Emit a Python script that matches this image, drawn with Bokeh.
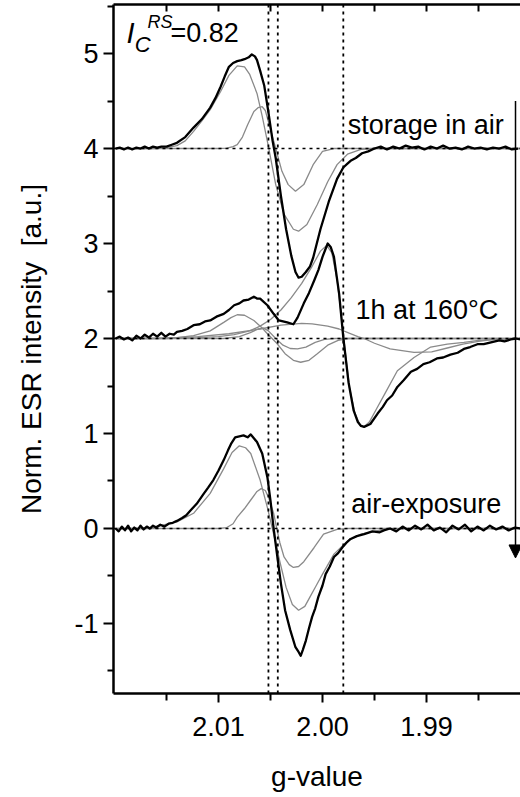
from bokeh.plotting import figure
from bokeh.models import Range1d, FixedTicker, LinearAxis, Span, Label, Arrow, NormalHead
from bokeh.embed import file_html
from bokeh.resources import INLINE

# ---------------- data (g-value, normalized ESR intensity) ----------------
# top spectrum: storage in air (offset 4)
g_top_exp = [2.0199, 2.0195, 2.0191, 2.0187, 2.0183, 2.0179, 2.0175, 2.0171, 2.0167, 2.0163, 2.0159, 2.0155,
             2.0150, 2.0145, 2.0140, 2.0132, 2.0124, 2.0116, 2.0108, 2.0103, 2.0098, 2.0094, 2.0090, 2.0086,
             2.0082, 2.0078, 2.0075, 2.0071, 2.0068, 2.0065, 2.0063, 2.0060, 2.0056, 2.0052, 2.0048, 2.0045,
             2.0040, 2.0035, 2.0030, 2.0026, 2.0023, 2.0020, 2.0016, 2.0012, 2.0009, 2.0002, 1.9994, 1.9986,
             1.9980, 1.9976, 1.9973, 1.9968, 1.9962, 1.9956, 1.9950, 1.9944, 1.9938, 1.9932, 1.9926, 1.9920,
             1.9914, 1.9908, 1.9902, 1.9896, 1.9890, 1.9884, 1.9878, 1.9872, 1.9866, 1.9860, 1.9854, 1.9848,
             1.9842, 1.9836, 1.9830, 1.9824, 1.9818, 1.9812]
v_top_exp = [4.00, 4.01, 3.99, 4.01, 3.99, 4.01, 4.00, 4.02, 4.00, 4.02, 4.01, 4.02,
             4.02, 4.04, 4.06, 4.12, 4.22, 4.31, 4.43, 4.53, 4.65, 4.76, 4.86, 4.90,
             4.92, 4.93, 4.94, 4.96, 4.99, 4.97, 4.93, 4.82, 4.66, 4.38, 4.08, 3.90,
             3.50, 3.15, 2.87, 2.70, 2.64, 2.65, 2.70, 2.76, 2.85, 3.15, 3.44, 3.68,
             3.80, 3.84, 3.87, 3.90, 3.95, 3.97, 4.00, 4.02, 3.99, 4.02, 4.00, 4.03,
             4.01, 4.02, 3.99, 4.02, 4.00, 4.03, 4.00, 4.01, 3.99, 4.02, 4.00, 4.01,
             3.99, 4.01, 4.00, 4.02, 3.99, 4.00]
g_top_fit1 = [2.0199, 2.0160, 2.0150, 2.0140, 2.0132, 2.0124, 2.0116, 2.0108, 2.0098, 2.0090, 2.0082, 2.0075,
              2.0070, 2.0063, 2.0058, 2.0052, 2.0045, 2.0037, 2.0028, 2.0023, 2.0015, 2.0005, 1.9995, 1.9986,
              1.9976, 1.9963, 1.9950, 1.9810]
v_top_fit1 = [4.00, 4.00, 4.01, 4.03, 4.08, 4.18, 4.29, 4.41, 4.60, 4.77, 4.87, 4.86,
              4.78, 4.58, 4.34, 4.02, 3.62, 3.31, 3.15, 3.13, 3.20, 3.41, 3.65, 3.83,
              3.94, 3.99, 4.00, 4.00]
g_top_fit2 = [2.0199, 2.0100, 2.0092, 2.0086, 2.0082, 2.0077, 2.0072, 2.0066, 2.0062, 2.0058, 2.0055, 2.0052,
              2.0045, 2.0039, 2.0033, 2.0026, 2.0018, 2.0009, 2.0000, 1.9989, 1.9810]
v_top_fit2 = [4.00, 4.00, 4.005, 4.02, 4.04, 4.12, 4.25, 4.39, 4.43, 4.44, 4.40, 4.28,
              4.00, 3.76, 3.62, 3.55, 3.62, 3.83, 3.97, 4.00, 4.00]

# middle spectrum: 1h at 160 C (offset 2)
g_mid_exp = [2.0199, 2.0195, 2.0191, 2.0187, 2.0183, 2.0179, 2.0175, 2.0171, 2.0167, 2.0163, 2.0159, 2.0155,
             2.0151, 2.0147, 2.0143, 2.0140, 2.0135, 2.0130, 2.0124, 2.0118, 2.0113, 2.0108, 2.0102, 2.0095,
             2.0090, 2.0085, 2.0080, 2.0076, 2.0071, 2.0066, 2.0063, 2.0060, 2.0053, 2.0047, 2.0042, 2.0038,
             2.0034, 2.0028, 2.0024, 2.0018, 2.0013, 2.0008, 2.0004, 2.0000, 1.9995, 1.9992, 1.9989, 1.9984,
             1.9980, 1.9975, 1.9970, 1.9966, 1.9963, 1.9960, 1.9954, 1.9947, 1.9942, 1.9938, 1.9933, 1.9928,
             1.9922, 1.9915, 1.9909, 1.9903, 1.9897, 1.9890, 1.9884, 1.9877, 1.9870, 1.9864, 1.9858, 1.9851,
             1.9845, 1.9838, 1.9830, 1.9825, 1.9819, 1.9814, 1.9810]
v_mid_exp = [2.00, 2.02, 1.99, 2.01, 1.98, 2.03, 2.00, 2.04, 2.01, 2.05, 2.02, 2.06,
             2.02, 2.05, 2.04, 2.07, 2.08, 2.10, 2.14, 2.15, 2.18, 2.19, 2.23, 2.26,
             2.30, 2.35, 2.37, 2.40, 2.41, 2.44, 2.42, 2.42, 2.35, 2.26, 2.19, 2.18,
             2.17, 2.15, 2.22, 2.37, 2.48, 2.61, 2.72, 2.86, 3.00, 2.96, 2.86, 2.47,
             2.01, 1.54, 1.24, 1.12, 1.08, 1.07, 1.10, 1.21, 1.28, 1.35, 1.40, 1.49,
             1.56, 1.65, 1.68, 1.73, 1.75, 1.79, 1.80, 1.83, 1.85, 1.89, 1.91, 1.94,
             1.94, 1.96, 1.98, 1.97, 1.99, 2.00, 1.99]
g_mid_fit1 = [2.0199, 2.0160, 2.0140, 2.0124, 2.0108, 2.0095, 2.0088, 2.0082, 2.0075, 2.0066, 2.0058, 2.0053,
              2.0044, 2.0036, 2.0028, 2.0021, 2.0013, 2.0005, 1.9995, 1.9985, 1.9975, 1.9810]
v_mid_fit1 = [2.00, 2.00, 2.01, 2.03, 2.08, 2.17, 2.22, 2.25, 2.245, 2.19, 2.11, 2.05,
              1.95, 1.84, 1.77, 1.75, 1.77, 1.84, 1.93, 1.98, 2.00, 2.00]
g_mid_fit2 = [2.0199, 2.0095, 2.0080, 2.0070, 2.0062, 2.0057, 2.0052, 2.0045, 2.0038, 2.0031, 2.0024, 2.0016,
              2.0007, 1.9998, 1.9988, 1.9810]
v_mid_fit2 = [2.00, 2.00, 2.02, 2.06, 2.10, 2.11, 2.08, 2.00, 1.93, 1.895, 1.89, 1.91,
              1.96, 1.99, 2.00, 2.00]
g_mid_fit3 = [2.0199, 2.0150, 2.0120, 2.0100, 2.0085, 2.0070, 2.0060, 2.0050, 2.0040, 2.0030, 2.0020, 2.0010,
              2.0002, 1.9996, 1.9991, 1.9986, 1.9982, 1.9978, 1.9974, 1.9969, 1.9964, 1.9960, 1.9955, 1.9948,
              1.9940, 1.9928, 1.9912, 1.9896, 1.9880, 1.9864, 1.9850, 1.9830, 1.9810]
v_mid_fit3 = [2.00, 2.00, 2.01, 2.02, 2.04, 2.08, 2.13, 2.20, 2.30, 2.43, 2.58, 2.76,
              2.92, 2.98, 2.90, 2.62, 2.25, 1.85, 1.48, 1.22, 1.09, 1.07, 1.12, 1.26,
              1.42, 1.66, 1.80, 1.91, 1.94, 1.96, 1.98, 1.99, 2.00]
g_mid_fit4 = [2.0199, 2.0150, 2.0120, 2.0090, 2.0060, 2.0040, 2.0020, 2.0010, 1.9995, 1.9984, 1.9975, 1.9966,
              1.9960, 1.9950, 1.9935, 1.9912, 1.9895, 1.9880, 1.9865, 1.9850, 1.9835, 1.9810]
v_mid_fit4 = [2.00, 2.005, 2.02, 2.05, 2.10, 2.14, 2.16, 2.155, 2.13, 2.10, 2.06, 2.02,
              2.00, 1.95, 1.89, 1.855, 1.86, 1.90, 1.94, 1.97, 1.99, 2.00]

# bottom spectrum: air-exposure (offset 0)
g_bot_exp = [2.0199, 2.0196, 2.0193, 2.0190, 2.0187, 2.0184, 2.0181, 2.0178, 2.0175, 2.0172, 2.0169, 2.0166,
             2.0163, 2.0160, 2.0156, 2.0152, 2.0148, 2.0144, 2.0140, 2.0135, 2.0131, 2.0127, 2.0121, 2.0114,
             2.0110, 2.0105, 2.0100, 2.0095, 2.0091, 2.0088, 2.0084, 2.0080, 2.0076, 2.0072, 2.0069, 2.0066,
             2.0063, 2.0058, 2.0053, 2.0050, 2.0047, 2.0044, 2.0040, 2.0036, 2.0031, 2.0026, 2.0023, 2.0021,
             2.0019, 2.0016, 2.0013, 2.0010, 2.0007, 2.0004, 2.0000, 1.9997, 1.9993, 1.9989, 1.9985, 1.9981,
             1.9977, 1.9973, 1.9967, 1.9960, 1.9952, 1.9945, 1.9941, 1.9935, 1.9929, 1.9923, 1.9917, 1.9911,
             1.9905, 1.9899, 1.9893, 1.9887, 1.9881, 1.9875, 1.9869, 1.9863, 1.9857, 1.9851, 1.9845, 1.9839,
             1.9833, 1.9827, 1.9821, 1.9815, 1.9810]
v_bot_exp = [0.00, -0.03, 0.02, -0.02, 0.03, -0.03, 0.01, -0.02, 0.03, -0.01, 0.02, 0.00,
             0.03, 0.01, 0.04, 0.02, 0.05, 0.06, 0.08, 0.11, 0.14, 0.19, 0.26, 0.37,
             0.43, 0.51, 0.61, 0.72, 0.82, 0.89, 0.96, 0.97, 0.98, 0.96, 0.99, 0.95,
             0.91, 0.79, 0.54, 0.29, 0.00, -0.25, -0.58, -0.86, -1.07, -1.25, -1.30, -1.34,
             -1.28, -1.18, -1.05, -0.93, -0.84, -0.72, -0.60, -0.48, -0.40, -0.30, -0.26, -0.20,
             -0.15, -0.11, -0.08, -0.06, -0.03, -0.04, -0.02, 0.00, -0.03, 0.02, -0.02, 0.03,
             -0.01, 0.04, -0.02, 0.01, -0.04, 0.03, -0.01, 0.04, -0.03, 0.02, -0.02, 0.03,
             -0.01, 0.02, -0.02, 0.01, 0.00]
g_bot_fit1 = [2.0199, 2.0170, 2.0156, 2.0140, 2.0124, 2.0108, 2.0095, 2.0087, 2.0080, 2.0074, 2.0069, 2.0060,
              2.0053, 2.0047, 2.0041, 2.0035, 2.0029, 2.0023, 2.0017, 2.0012, 2.0006, 2.0000, 1.9989, 1.9976,
              1.9963, 1.9941, 1.9920, 1.9810]
v_bot_fit1 = [0.00, 0.00, 0.03, 0.07, 0.16, 0.37, 0.63, 0.80, 0.87, 0.85, 0.79, 0.51,
              0.22, -0.06, -0.35, -0.62, -0.80, -0.86, -0.82, -0.72, -0.60, -0.48, -0.27, -0.13,
              -0.06, -0.01, 0.00, 0.00]
g_bot_fit2 = [2.0199, 2.0100, 2.0092, 2.0086, 2.0082, 2.0075, 2.0069, 2.0063, 2.0059, 2.0055, 2.0052, 2.0047,
              2.0044, 2.0041, 2.0037, 2.0032, 2.0028, 2.0023, 2.0018, 2.0008, 1.9999, 1.9986, 1.9975, 1.9810]
v_bot_fit2 = [0.00, 0.00, 0.01, 0.05, 0.12, 0.21, 0.30, 0.39, 0.42, 0.40, 0.33, 0.16,
              0.00, -0.15, -0.30, -0.38, -0.41, -0.40, -0.35, -0.20, -0.06, -0.01, 0.00, 0.00]

# reference lines and annotations
baselines = [0, 2, 4]
g_markers = [2.0052, 2.0043, 1.9980]
arrow_g = 1.98144
arrow_from, arrow_to = 4.5, -0.31
x_ticks = [2.01, 2.00, 1.99]
x_minor = [2.015, 2.005, 1.995, 1.985]
x_tick_labels = ["2.01", "2.00", "1.99"]
y_ticks = [-1, 0, 1, 2, 3, 4, 5]
y_minor = [-1.5, -0.5, 0.5, 1.5, 2.5, 3.5, 4.5, 5.5]
y_tick_labels = ["-1", "0", "1", "2", "3", "4", "5"]

FONT = "Liberation Sans"
GRAY = "#8a8a8a"

p = figure(width=520, height=797, output_backend="svg", toolbar_location=None,
           x_range=Range1d(2.0201, 1.98096), y_range=Range1d(-1.737, 5.516),
           min_border_left=113, min_border_right=0, min_border_top=4, min_border_bottom=104,
           x_axis_label="g-value", y_axis_label="Norm. ESR intensity\u00a0\u00a0[a.u.]")
p.outline_line_color = None
p.grid.visible = False
p.background_fill_color = "white"
p.border_fill_color = "white"

xt = FixedTicker(ticks=x_ticks, minor_ticks=x_minor)
yt = FixedTicker(ticks=y_ticks, minor_ticks=y_minor)

xa = p.xaxis[0]
xa.ticker = xt
xa.major_label_overrides = {t: s for t, s in zip(x_ticks, x_tick_labels)}
ya = p.yaxis[0]
ya.ticker = yt
ya.major_label_overrides = {t: s for t, s in zip(y_ticks, y_tick_labels)}

for ax in (xa, ya):
    ax.axis_line_width = 2.5
    ax.axis_line_color = "black"
    ax.major_tick_line_width = 2
    ax.minor_tick_line_width = 2
    ax.major_tick_in = 0
    ax.minor_tick_in = 0
    ax.major_label_text_font = FONT
    ax.major_label_text_font_size = "27px"
    ax.major_label_text_color = "black"
    ax.axis_label_text_font = FONT
    ax.axis_label_text_font_size = "28px"
    ax.axis_label_text_font_style = "normal"
    ax.axis_label_text_color = "black"
xa.major_tick_out = 9
xa.minor_tick_out = 7
xa.major_label_standoff = 14
xa.axis_label_standoff = 22
ya.major_tick_out = 10
ya.minor_tick_out = 6
ya.major_label_standoff = 5
ya.axis_label_standoff = 24

# top frame line with inward ticks (all drawn as minor ticks, no labels)
top_ticker = FixedTicker(ticks=[], minor_ticks=x_ticks + x_minor)
top = LinearAxis(ticker=top_ticker, axis_line_width=2.5, major_tick_in=0, major_tick_out=0,
                 minor_tick_in=7, minor_tick_out=0, minor_tick_line_width=2)
p.add_layout(top, "above")

# baselines and marker lines
for b in baselines:
    p.add_layout(Span(location=b, dimension="width", line_color="black", line_width=1.5, line_dash="3 4"))
for gm in g_markers:
    p.add_layout(Span(location=gm, dimension="height", line_color="black", line_width=1.8, line_dash="3 4"))

# fit components
for gx, vy in [(g_top_fit1, v_top_fit1), (g_top_fit2, v_top_fit2),
               (g_mid_fit1, v_mid_fit1), (g_mid_fit2, v_mid_fit2), (g_mid_fit3, v_mid_fit3), (g_mid_fit4, v_mid_fit4),
               (g_bot_fit1, v_bot_fit1), (g_bot_fit2, v_bot_fit2)]:
    p.line(gx, vy, line_color=GRAY, line_width=1.3)

# experimental spectra
for gx, vy in [(g_top_exp, v_top_exp), (g_mid_exp, v_mid_exp), (g_bot_exp, v_bot_exp)]:
    p.line(gx, vy, line_color="black", line_width=2.3, line_join="round")

p.add_layout(Arrow(x_start=arrow_g, y_start=arrow_from, x_end=arrow_g, y_end=arrow_to,
                   line_color="black", line_width=1.5,
                   end=NormalHead(size=13, fill_color="black", line_color="black")))

def lab(x, y, t, size="27px", style="normal"):
    p.add_layout(Label(x=x, y=y, text=t, text_font=FONT, text_font_size=size, text_font_style=style,
                       text_color="black", text_baseline="alphabetic", text_align="left"))

lab(1.99757, 4.248, "storage in air")
lab(1.99683, 2.297, "1h at 160°C")
lab(1.99724, 0.255, "air-exposure")
lab(2.01885, 5.216, "I", size="29px", style="italic")
lab(2.01805, 5.10, "C", size="22px", style="italic")
lab(2.01683, 5.33, "RS", size="18px", style="italic")
lab(2.01462, 5.216, "=0.82", size="27px")

open("out.html", "w").write(file_html(p, INLINE))
